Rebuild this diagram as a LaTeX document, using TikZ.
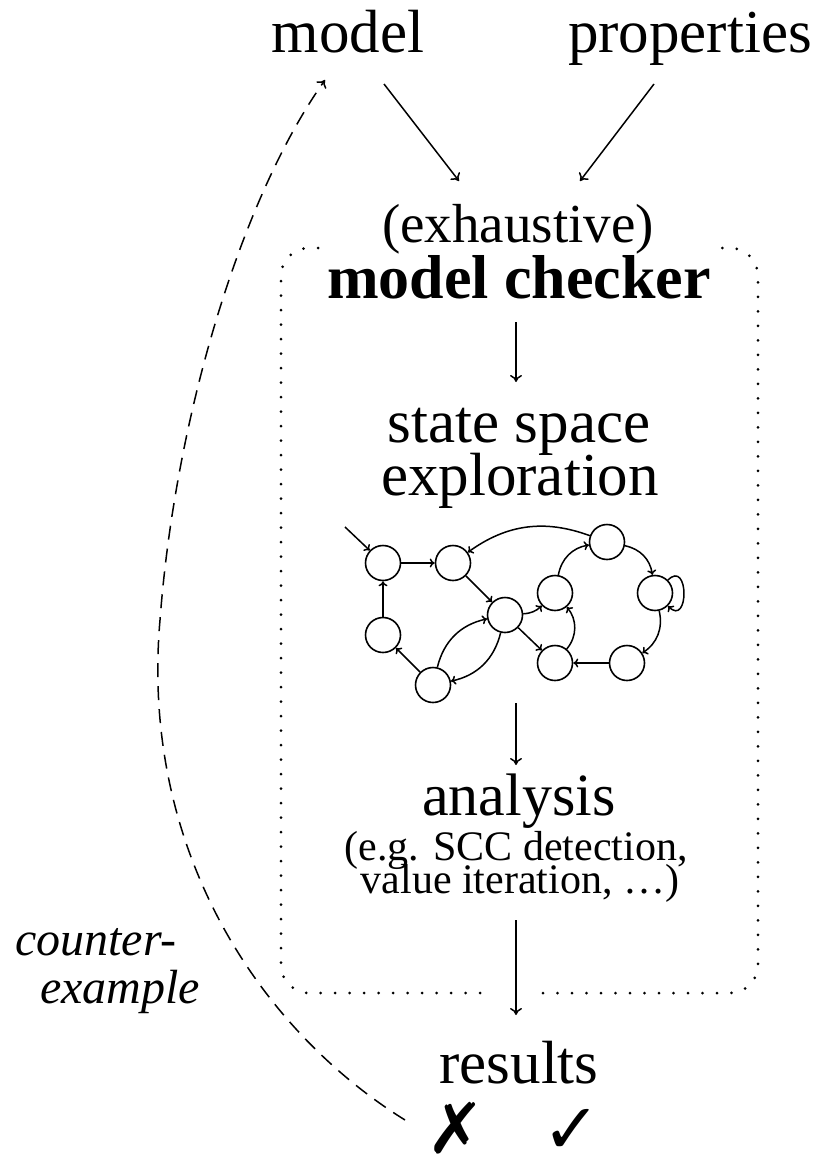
\documentclass[tikz,border=0pt]{standalone}
\usepackage{fontspec}
\setmainfont{Liberation Serif}
\newfontfamily\symfont{DejaVu Sans}
\usetikzlibrary{arrows.meta}
\begin{document}
\begin{tikzpicture}[x=1pt,y=-1pt,
  lbl/.style={inner sep=0pt, anchor=base, font=\fontsize{61}{70}\selectfont},
  resmark/.style={inner sep=0pt, anchor=base, font=\symfont\fontsize{70}{70}\selectfont},
  st/.style={circle, draw, line width=1.6pt, minimum size=35pt, inner sep=0pt},
  ga/.style={-{To[length=5pt,width=9pt]}, line width=1.5pt},
  ma/.style={-{To[length=7pt,width=12pt]}, line width=1.5pt},
  dotbox/.style={line width=3pt, line cap=round, dash pattern=on 0pt off 14.5pt, rounded corners=28pt},
  dashline/.style={line width=1.5pt, dash pattern=on 14pt off 9pt, -{To[length=7pt,width=12pt]}}
]
\useasboundingbox (0,0) rectangle (824,1169);

% texts
\node[lbl] (model) at (348,53) {model};
\node[lbl] (props) at (690,53) {properties};
\node[lbl, font=\fontsize{55}{60}\selectfont] (exh) at (518,242) {(exhaustive)};
\node[lbl, font=\fontsize{62}{70}\selectfont\bfseries] (mc) at (519,298) {model checker};
\node[lbl] (ss) at (519,442) {state space};
\node[lbl] (expl) at (520,495) {exploration};
\node[lbl, font=\fontsize{60}{70}\selectfont] (ana) at (519,815) {analysis};
\node[lbl, font=\fontsize{42}{50}\selectfont] (eg1) at (516,860) {(e.g. SCC detection,};
\node[lbl, font=\fontsize{42}{50}\selectfont] (eg2) at (520,893) {value iteration, \ldots)};
\node[lbl] (res) at (519,1083) {results};
\node[resmark, font=\symfont\bfseries\fontsize{70}{70}\selectfont] (no) at (456,1153) {✗};
\node[resmark] (yes) at (572,1153) {✓};
\node[lbl, anchor=base west, font=\itshape\fontsize{48}{55}\selectfont] (ce1) at (15,955) {counter-};
\node[lbl, anchor=base west, font=\itshape\fontsize{48}{55}\selectfont] (ce2) at (40,1003) {example};

% dotted box
\draw[dotbox] (318,248) -- (281,248) -- (281,993) -- (494,993);
\draw[dotbox] (543,993) -- (758,993) -- (758,248) -- (720,248);

% main arrows
\coordinate (m1) at (384,84); \coordinate (m2) at (459,181);
\coordinate (p1) at (654,84); \coordinate (p2) at (580,181);
\coordinate (c1) at (516,322); \coordinate (c2) at (516,382);
\coordinate (g1) at (516,703); \coordinate (g2) at (516,765);
\coordinate (r1) at (516,920); \coordinate (r2) at (516,1015);
\draw[ma] (m1) -- (m2);
\draw[ma] (p1) -- (p2);
\draw[ma] (c1) -- (c2);
\draw[ma] (g1) -- (g2);
\draw[ma] (r1) -- (r2);

% counterexample
\coordinate (ce0) at (405,1120);
\coordinate (cem) at (160,620);
\coordinate (ceE) at (325,80);
\draw[dashline] (ce0) .. controls (260,1030) and (140,850) .. (cem) .. controls (175,420) and (240,200) .. (ceE);

% state graph
\node[st] (n1) at (383,563) {};
\node[st] (n2) at (453,563) {};
\node[st] (n3) at (505,615) {};
\node[st] (n4) at (383,635) {};
\node[st] (n5) at (433,685) {};
\node[st] (n6) at (555,593) {};
\node[st] (n7) at (555,663) {};
\node[st] (n8) at (607,542) {};
\node[st] (n9) at (655,593) {};
\node[st] (n10) at (627,663) {};
\coordinate (init) at (345,527);

\draw[ga] (init) -- (n1);
\draw[ga] (n1) -- (n2);
\draw[ga] (n8) to[bend right=28] (n2);
\draw[ga] (n2) -- (n3);
\draw[ga] (n4) -- (n1);
\draw[ga] (n5) -- (n4);
\draw[ga] (n5) to[bend left=32] (n3);
\draw[ga] (n3) to[bend left=32] (n5);
\draw[ga] (n3) to[bend right=20] (n6);
\draw[ga] (n3) -- (n7);
\draw[ga] (n7) to[bend right=40] (n6);
\draw[ga] (n6) to[bend left=35] (n8);
\draw[ga] (n8) to[bend left=35] (n9);
\draw[ga] (n9) to[bend left=35] (n10);
\draw[ga] (n10) -- (n7);
\draw[ga] (n9) to[out=45,in=-45,distance=30pt] (n9);
\end{tikzpicture}
\end{document}
